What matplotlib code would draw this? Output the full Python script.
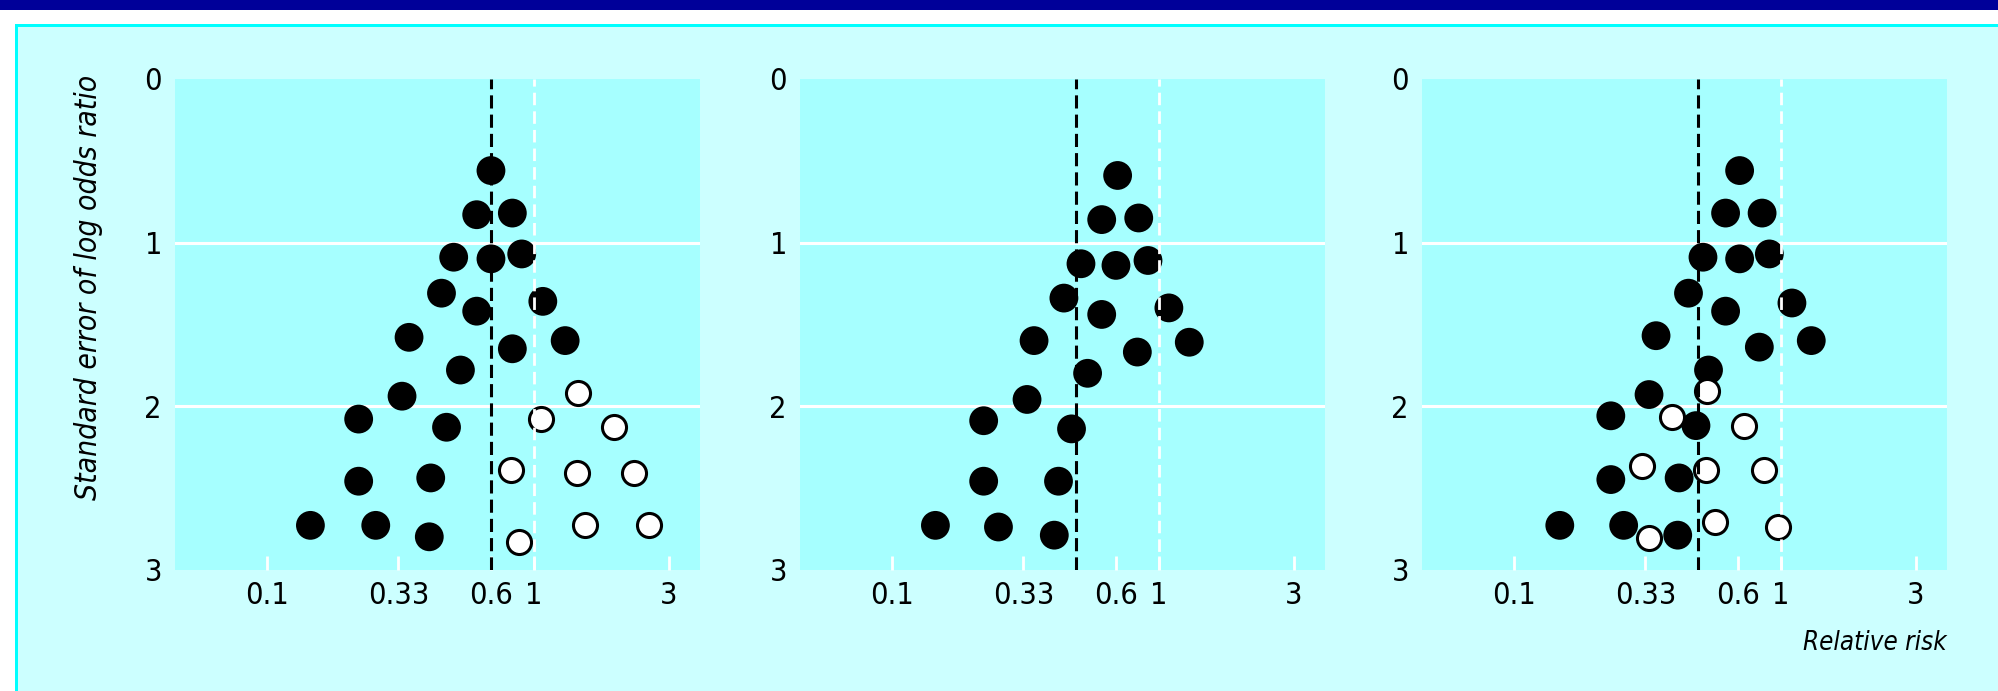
"""Funnel plots of relative risk against standard error, three panels."""

import matplotlib
matplotlib.use('Agg')
from matplotlib import pyplot as plt
from matplotlib import font_manager
from matplotlib.patches import Rectangle

# Data: relative risk (x) and standard error of log odds ratio (y)

# Panel 1 - all studies, symmetric funnel
p1_filled_rr = [0.69, 0.61, 0.83, 0.50, 0.69, 0.90, 0.45, 0.61, 1.08, 0.34, 0.83,
                1.31, 0.53, 0.32, 0.22, 0.47, 0.22, 0.41, 0.145, 0.255, 0.405]
p1_filled_se = [0.56, 0.83, 0.82, 1.09, 1.10, 1.07, 1.31, 1.42, 1.36, 1.58, 1.65,
                1.60, 1.78, 1.94, 2.08, 2.13, 2.46, 2.44, 2.73, 2.73, 2.80]
p1_open_rr = [1.47, 1.06, 2.00, 0.82, 1.45, 2.37, 1.55, 2.71, 0.88]
p1_open_se = [1.92, 2.08, 2.13, 2.39, 2.41, 2.41, 2.73, 2.73, 2.83]

# Panel 2 - small studies with beneficial effects missing
p2_filled_rr = [0.70, 0.61, 0.84, 0.51, 0.69, 0.91, 0.44, 0.61, 1.09, 0.34, 0.83,
                1.30, 0.54, 0.32, 0.22, 0.47, 0.22, 0.42, 0.145, 0.25, 0.405]
p2_filled_se = [0.59, 0.86, 0.85, 1.13, 1.14, 1.11, 1.34, 1.44, 1.40, 1.60, 1.67,
                1.61, 1.80, 1.96, 2.09, 2.14, 2.46, 2.46, 2.73, 2.74, 2.79]

# Panel 3 - small studies of lower quality
p3_filled_rr = [0.70, 0.62, 0.85, 0.51, 0.70, 0.905, 0.45, 0.62, 1.10, 0.34, 0.83,
                1.30, 0.535, 0.32, 0.23, 0.48, 0.23, 0.415, 0.148, 0.257, 0.41]
p3_filled_se = [0.56, 0.82, 0.82, 1.09, 1.10, 1.07, 1.31, 1.42, 1.37, 1.57, 1.64,
                1.60, 1.78, 1.93, 2.06, 2.12, 2.45, 2.44, 2.73, 2.73, 2.79]
p3_open_rr = [0.53, 0.39, 0.725, 0.30, 0.525, 0.865, 0.565, 0.975, 0.32]
p3_open_se = [1.91, 2.07, 2.12, 2.37, 2.39, 2.39, 2.71, 2.74, 2.81]

pooled = [0.69, 0.49, 0.49]        # black dashed line: pooled estimate per panel
null_effect = 1                    # white dashed line
grid_levels = [1, 2]
x_ticks = [0.1, 0.31, 0.69, 1, 3.2]
x_tick_labels = ['0.1', '0.33', '0.6', '1', '3']
y_ticks = [0, 1, 2, 3]
y_label = 'Standard error of log odds ratio'
x_label = 'Relative risk'

# Colours
navy = '#000099'
frame_cyan = '#00ffff'
back_cyan = '#ccffff'
panel_cyan = '#a6ffff'


# The original uses a tall, narrow sans face; take Liberation Sans Narrow if it is there,
# else a condensed DejaVu, else plain Liberation Sans
def find_file(keys, italic):
    for key in keys:
        for f in font_manager.fontManager.ttflist:
            fn = f.fname.replace(' ', '')
            is_italic = f.style in ('italic', 'oblique')
            if key in fn and is_italic == italic and 'Bold' not in fn:
                return fn and f.fname
    return None


narrow_keys = ['LiberationSansNarrow', 'DejaVuSansCondensed']
reg_file = find_file(narrow_keys, False)
ita_file = find_file(narrow_keys, True)

if reg_file and 'Liberation' in reg_file:
    sizes = dict(tick=23, ylab=27, xlab=23)
elif reg_file:
    sizes = dict(tick=22, ylab=21.5, xlab=18.5)
else:
    sizes = dict(tick=21, ylab=20, xlab=17)

if reg_file:
    tick_font = font_manager.FontProperties(fname=reg_file, size=sizes['tick'])
else:
    tick_font = font_manager.FontProperties(family='Liberation Sans', size=sizes['tick'])
if ita_file:
    ylab_font = font_manager.FontProperties(fname=ita_file, size=sizes['ylab'])
    xlab_font = font_manager.FontProperties(fname=ita_file, size=sizes['xlab'])
else:
    ylab_font = font_manager.FontProperties(family='Liberation Sans', style='italic', size=sizes['ylab'])
    xlab_font = font_manager.FontProperties(family='Liberation Sans', style='italic', size=sizes['xlab'])

W, H = 1999, 691
fig = plt.figure(figsize=(W / 100, H / 100), dpi=100)
fig.patch.set_facecolor('white')

# Slide background: navy band on top, cyan frame, pale cyan inside
fig.patches.append(Rectangle((0, (H - 10) / H), 1, 10 / H, transform=fig.transFigure,
                             facecolor=navy, edgecolor='none', zorder=-5))
fig.patches.append(Rectangle((15 / W, 0), 1, (H - 24) / H, transform=fig.transFigure,
                             facecolor=frame_cyan, edgecolor='none', zorder=-5))
fig.patches.append(Rectangle((18 / W, 0), 1, (H - 27) / H, transform=fig.transFigure,
                             facecolor=back_cyan, edgecolor='none', zorder=-4))

lefts = [175, 800, 1422]
ax_w = 525
ax_top, ax_bottom = 79, 569.5

panels = [
    (p1_filled_rr, p1_filled_se, p1_open_rr, p1_open_se),
    (p2_filled_rr, p2_filled_se, [], []),
    (p3_filled_rr, p3_filled_se, p3_open_rr, p3_open_se),
]

for i, (frr, fse, orr, ose) in enumerate(panels):
    ax = fig.add_axes([lefts[i] / W, (H - ax_bottom) / H, ax_w / W, (ax_bottom - ax_top) / H])
    ax.set_zorder(1)
    ax.set_facecolor(panel_cyan)
    ax.set_xscale('log')
    ax.set_xlim(0.045, 4.2)
    ax.set_ylim(3, 0)
    for s in ax.spines.values():
        s.set_visible(False)

    for g in grid_levels:
        ax.axhline(g, color='white', lw=2.2, zorder=1)

    ax.scatter(frr, fse, s=430, color='black', edgecolors='none', zorder=3)
    if orr:
        ax.scatter(orr, ose, s=300, facecolors='white', edgecolors='black',
                   linewidths=2.2, zorder=4)

    ax.axvline(null_effect, color='white', lw=2.0, dashes=(4.5, 2.2), zorder=5)
    ax.axvline(pooled[i], color='black', lw=2.2, dashes=(4.3, 2.0), zorder=6)

    ax.set_xticks(x_ticks)
    ax.set_xticklabels(x_tick_labels, fontproperties=tick_font)
    ax.xaxis.set_minor_locator(matplotlib.ticker.NullLocator())
    ax.set_yticks(y_ticks)
    ax.set_yticklabels([str(v) for v in y_ticks], fontproperties=tick_font)
    ax.tick_params(axis='x', direction='in', length=10, width=2, color='white', pad=8)
    ax.tick_params(axis='y', length=0, pad=9.4)

    if i == 0:
        ax.set_ylabel(y_label, fontproperties=ylab_font, va='center')
        ax.yaxis.set_label_coords((89 - lefts[0]) / ax_w, (ax_bottom - 287) / (ax_bottom - ax_top))
    if i == 2:
        ax.set_xlabel(x_label, fontproperties=xlab_font, loc='right')
        ax.xaxis.set_label_coords(1.0, (ax_bottom - 630) / (ax_bottom - ax_top))
        ax.xaxis.label.set_ha('right')

fig.savefig('out.png', dpi=100)
